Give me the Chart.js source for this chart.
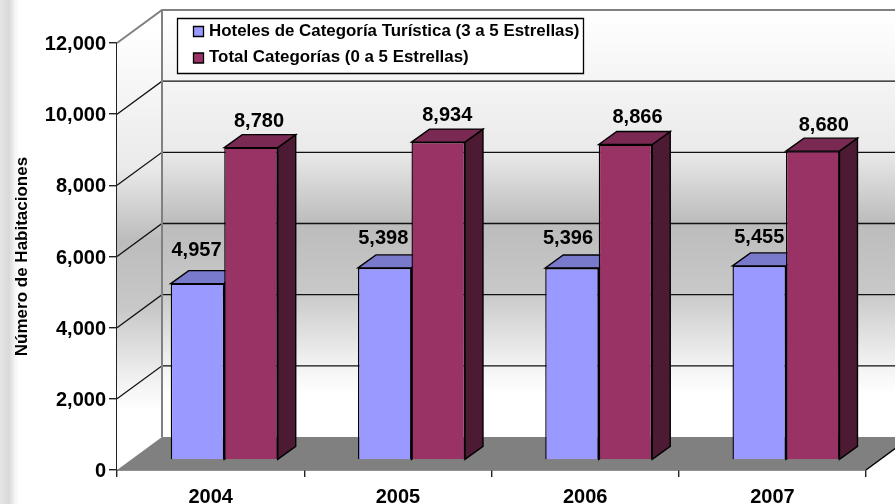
<!DOCTYPE html>
<html>
<head>
<meta charset="utf-8">
<style>
html, body { margin: 0; padding: 0; background: #fff; }
#wrap { position: relative; width: 895px; height: 504px; overflow: hidden;
  background: linear-gradient(to right, #e6e6e6 0, #d9d9d9 9px, #f4f4f4 15px, #fff 19px); }
</style>
<script src="https://cdn.jsdelivr.net/npm/chart.js@4"></script>
</head>
<body>
<div id="wrap"><canvas id="c" width="895" height="504"></canvas></div>
<script>
const years = ['2004', '2005', '2006', '2007'];
const hoteles = [4957, 5398, 5396, 5455];
const total = [8780, 8934, 8866, 8680];
const yTicks = [0, 2000, 4000, 6000, 8000, 10000, 12000];
const seriesNames = ['Hoteles de Categoría Turística (3 a 5 Estrellas)', 'Total Categorías (0 a 5 Estrellas)'];
const axisTitle = 'Número de Habitaciones';

const FAMILY = '"Liberation Sans", Arial, sans-serif';
const FONT = 'bold 20px ' + FAMILY;
// depth of the 3d box: whole plot, and where the bars sit inside it
const DEPTH = { x: 45, y: -33 };
const BAR_SHIFT = { x: 13.6, y: -10 };
const BAR_DEPTH = { x: 18, y: -13 };
// label nudges off the bar centre
const nudgeX = [[-1, -1.5, -4, 0], [8, 9, 12, 11]];
const nudgeY = [[-20, -16, -17, -15], [-13, -14, -14, -13]];

const fmt = v => v.toLocaleString('en-US');

function poly(ctx, pts, fill, stroke, lw) {
    ctx.beginPath();
    pts.forEach((p, i) => i ? ctx.lineTo(p[0], p[1]) : ctx.moveTo(p[0], p[1]));
    ctx.closePath();
    if (fill) { ctx.fillStyle = fill; ctx.fill(); }
    if (stroke) { ctx.strokeStyle = stroke; ctx.lineWidth = lw || 1; ctx.stroke(); }
}

function wallGrad(ctx, y0, y1) {
    const g = ctx.createLinearGradient(0, y0, 0, y1);
    g.addColorStop(0, '#ffffff');
    g.addColorStop(0.33, '#eaeaea');
    g.addColorStop(0.5, '#bcbcbc');
    g.addColorStop(0.66, '#c8c8c8');
    g.addColorStop(0.83, '#f2f2f2');
    g.addColorStop(0.9, '#ffffff');
    g.addColorStop(1, '#ffffff');
    return g;
}

const box3d = {
    id: 'box3d',
    beforeDatasetsDraw(chart) {
        const ctx = chart.ctx, y = chart.scales.y, a = chart.chartArea;
        const dx = DEPTH.x, dy = DEPTH.y;
        const R = a.right + dx;
        ctx.save();
        // back wall
        poly(ctx, [[a.left + dx, a.top + dy], [R, a.top + dy], [R, a.bottom + dy], [a.left + dx, a.bottom + dy]], wallGrad(ctx, a.top + dy, a.bottom + dy));
        // side wall
        poly(ctx, [[a.left, a.top], [a.left + dx, a.top + dy], [a.left + dx, a.bottom + dy], [a.left, a.bottom]], wallGrad(ctx, a.top + dy / 2, a.bottom + dy / 2));
        // floor
        poly(ctx, [[a.left, a.bottom], [a.left + dx, a.bottom + dy], [R, a.bottom + dy], [a.right, a.bottom]], '#808080');
        ctx.strokeStyle = '#000';
        ctx.lineWidth = 1.4;
        ctx.beginPath();
        ctx.moveTo(a.right, a.bottom);
        ctx.lineTo(R, a.bottom + dy);
        ctx.stroke();
        // gridlines on side wall and back wall
        yTicks.forEach(t => {
            if (t === 0) return;
            const py = y.getPixelForValue(t);
            const top = t === yTicks[yTicks.length - 1];
            ctx.strokeStyle = top ? '#808080' : '#111';
            ctx.lineWidth = top ? 2 : 1.3;
            ctx.beginPath();
            ctx.moveTo(a.left, py);
            ctx.lineTo(a.left + dx, py + dy);
            ctx.lineTo(R, py + dy);
            ctx.stroke();
        });
        ctx.strokeStyle = '#808080';
        ctx.lineWidth = 2;
        ctx.beginPath();
        ctx.moveTo(a.left + dx, a.top + dy);
        ctx.lineTo(a.left + dx, a.bottom + dy);
        ctx.stroke();
        ctx.restore();

        // bars are drawn by the library, just moved into the box
        ctx.save();
        ctx.translate(BAR_SHIFT.x, BAR_SHIFT.y);
        const sides = ['#4d4d80', '#4d1a33'];
        const tops = ['#7a7acc', '#7a2952'];
        chart.data.datasets.forEach((ds, i) => {
            chart.getDatasetMeta(i).data.forEach(bar => {
                const l = bar.x - bar.width / 2, r = bar.x + bar.width / 2;
                const ex = BAR_DEPTH.x, ey = BAR_DEPTH.y;
                poly(ctx, [[r, bar.y], [r + ex, bar.y + ey], [r + ex, bar.base + ey], [r, bar.base]], sides[i], '#000', 1.4);
                poly(ctx, [[l, bar.y], [l + ex, bar.y + ey], [r + ex, bar.y + ey], [r, bar.y]], tops[i], '#000', 1.4);
            });
        });
    },
    afterDatasetsDraw(chart) {
        const ctx = chart.ctx;
        ctx.restore();
        ctx.save();
        ctx.font = FONT;
        ctx.fillStyle = '#000';
        ctx.textAlign = 'center';
        ctx.textBaseline = 'middle';
        chart.data.datasets.forEach((ds, i) => {
            chart.getDatasetMeta(i).data.forEach((bar, j) => {
                const cx = bar.x + BAR_SHIFT.x + nudgeX[i][j];
                const cy = bar.y + BAR_SHIFT.y + BAR_DEPTH.y + nudgeY[i][j];
                ctx.fillText(fmt(ds.data[j]), cx, cy);
            });
        });
        ctx.restore();
        drawLegend(chart);
    }
};

function drawLegend(chart) {
    const ctx = chart.ctx;
    ctx.save();
    poly(ctx, [[177.5, 18.5], [583.5, 18.5], [583.5, 73.5], [177.5, 73.5]], '#fff', '#000', 1.3);
    ctx.font = 'bold 16.9px ' + FAMILY;
    ctx.textBaseline = 'middle';
    chart.data.datasets.forEach((ds, i) => {
        const cy = 31 + i * 26.5;
        poly(ctx, [[193.5, cy - 4.5], [203.5, cy - 4.5], [203.5, cy + 5.5], [193.5, cy + 5.5]], ds.backgroundColor, '#000', 1.3);
        ctx.fillStyle = '#000';
        ctx.fillText(ds.label, 209, cy);
    });
    ctx.restore();
}

new Chart(document.getElementById('c'), {
    type: 'bar',
    data: {
        labels: years,
        datasets: [
            { label: seriesNames[0], data: hoteles, backgroundColor: '#9999ff', borderColor: '#000', borderWidth: 1.4 },
            { label: seriesNames[1], data: total, backgroundColor: '#993366', borderColor: '#000', borderWidth: 1.4 }
        ]
    },
    options: {
        responsive: false,
        animation: false,
        layout: { padding: { top: 43, right: 29, bottom: 0, left: 0 } },
        categoryPercentage: 0.5714,
        barPercentage: 1,
        plugins: { legend: { display: false }, tooltip: { enabled: false } },
        scales: {
            x: {
                afterFit: s => { s.height = 34; },
                grid: { offset: true, drawOnChartArea: false, tickLength: 7, color: '#222', lineWidth: 1.4 },
                border: { color: '#222', width: 1.6 },
                ticks: { color: '#000', font: { family: FAMILY, size: 20, weight: 'bold' }, padding: 8 }
            },
            y: {
                min: 0,
                max: 12000,
                afterFit: s => { s.width = 117; },
                afterBuildTicks: s => { s.ticks = yTicks.map(v => ({ value: v })); },
                title: { display: true, text: axisTitle, color: '#000', padding: { top: 12, bottom: 0 }, font: { family: FAMILY, size: 17, weight: 'bold' } },
                grid: { drawOnChartArea: false, tickLength: 8, color: '#222', lineWidth: 1.4 },
                border: { color: '#222', width: 1.6 },
                ticks: { color: '#000', font: { family: FAMILY, size: 20, weight: 'bold' }, padding: 3, labelOffset: 1.5, callback: v => fmt(v) }
            }
        }
    },
    plugins: [box3d]
});
</script>
</body>
</html>
